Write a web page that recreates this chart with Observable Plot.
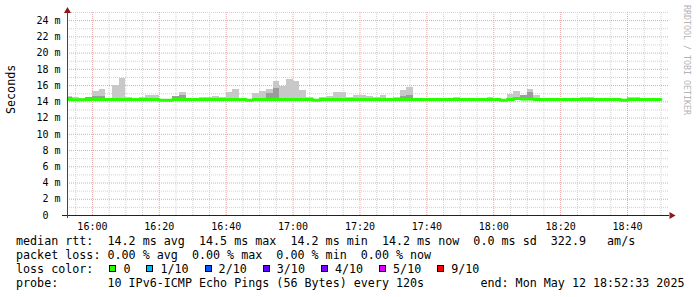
<!DOCTYPE html>
<html><head><meta charset="utf-8">
<script src="https://cdn.jsdelivr.net/npm/d3@7"></script>
<script src="https://cdn.jsdelivr.net/npm/@observablehq/plot@0.6"></script>
<style>
body{margin:0;background:#fff;width:697px;height:297px;overflow:hidden;position:relative}
#chart svg{display:block}
#legend{font-family:"DejaVu Sans Mono",monospace;font-size:11.7px;line-height:14px;white-space:pre;padding-left:16px;color:#000}
.box{display:inline-block;width:5px;height:5px;border:1px solid #000;vertical-align:1px;margin-right:7px}
#credit{position:absolute;left:682px;top:5px;writing-mode:vertical-rl;font-family:"DejaVu Sans Mono",monospace;font-size:8.3px;color:#b4b4b4;line-height:10px}
</style></head>
<body>
<div id="chart"></div>
<div id="legend"></div>
<div id="credit">RRDTOOL / TOBI OETIKER</div>
<script>
// ---- data (2-minute steps starting 15:52 UTC, 12 May 2025) ----
const firstBinStart = "2025-05-12T15:52:00Z";
const stepMinutes = 2;
const viewStart = "2025-05-12T15:52:33Z";
const viewEnd = "2025-05-12T18:52:33Z";

// median RTT (ms) per step
const median = [
  14.3,14.25,14.25,14.3,14.3,14.3,14.3,14.3,14.3,14.3,
  14.3,14.3,14.3,14.3,14.2,14.2,14.3,14.3,14.3,14.3,
  14.3,14.3,14.3,14.3,14.3,14.3,14.3,14.2,14.3,14.3,
  14.3,14.3,14.3,14.3,14.3,14.3,14.3,14.2,14.3,14.3,
  14.3,14.3,14.3,14.3,14.3,14.3,14.3,14.3,14.3,14.3,
  14.3,14.3,14.3,14.3,14.3,14.3,14.3,14.3,14.3,14.3,
  14.3,14.3,14.3,14.3,14.3,14.2,14.3,14.4,14.35,14.35,
  14.3,14.3,14.3,14.3,14.3,14.3,14.3,14.3,14.3,14.3,
  14.3,14.3,14.3,14.2,14.3,14.3,14.3,14.3,14.3
];
// top of the smoke (ms) per step
const smokeHi = [
  14.6,14.5,14.35,14.5,15.3,15.5,14.4,16.0,16.9,14.55,
  14.4,14.5,14.75,14.8,14.3,14.2,14.7,15.2,14.3,14.2,
  14.5,14.5,14.65,14.55,15.1,15.5,14.4,14.3,15.0,15.3,
  15.5,16.5,15.9,16.7,16.45,15.4,14.5,14.3,14.5,14.65,
  15.1,15.1,14.5,14.75,14.8,14.65,14.55,14.8,14.4,14.5,
  15.4,15.8,14.4,14.3,14.4,14.4,14.3,14.3,14.5,14.4,
  14.3,14.35,14.3,14.5,14.3,14.2,14.85,15.3,14.8,15.5,
  14.75,14.4,14.4,14.4,14.4,14.3,14.4,14.5,14.5,14.4,
  14.4,14.4,14.4,14.3,14.5,14.5,14.4,14.3,14.4
];
// top of the denser (darker) smoke (ms) per step, null = none
const darkHi = [
  14.5,null,null,14.5,14.6,14.6,null,null,null,null,
  null,null,null,null,null,null,14.6,14.8,null,null,
  null,null,null,null,14.45,null,null,null,null,null,
  15.0,15.7,null,null,null,null,null,null,null,null,
  null,null,null,null,null,null,null,null,null,null,
  14.7,14.8,null,null,null,null,null,null,null,null,
  null,null,null,null,null,null,null,null,14.8,15.2,
  null,null,null,null,null,null,null,null,null,null,
  null,null,null,null,null,null,null,null,null
];

const yMajorTicks = [0,2,4,6,8,10,12,14,16,18,20,22,24];
const yMinorGrid = [1,3,5,7,9,11,13,15,17,19,21,23,25];

const statLines = [
  "median rtt:  14.2 ms avg  14.5 ms max  14.2 ms min  14.2 ms now  0.0 ms sd  322.9   am/s",
  "packet loss: 0.00 % avg  0.00 % max  0.00 % min  0.00 % now"
];
const lossLabels = ["0","1/10","2/10","3/10","4/10","5/10","9/10"];
const lossColors = ["#26ff00","#00b8ff","#0059ff","#5e00ff","#7e00ff","#dd00ff","#ff0000"];
const probeLine = "probe:       10 IPv6-ICMP Echo Pings (56 Bytes) every 120s        end: Mon May 12 18:52:33 2025";

// ---- build ----
const start0 = new Date(firstBinStart);
const xs = new Date(viewStart), xe = new Date(viewEnd);
const bins = median.map((m, i) => ({
  t0: d3.utcMinute.offset(start0, i * stepMinutes),
  t1: d3.utcMinute.offset(start0, (i + 1) * stepMinutes),
  median: m, hi: smokeHi[i], dark: darkHi[i]
}));
const lineData = bins.map(b => ({t: b.t0, v: b.median}))
  .concat([{t: bins[bins.length - 1].t1, v: bins[bins.length - 1].median}]);

const majorX = d3.utcMinute.every(20).range(xs, xe);
const minorX = d3.utcMinute.every(5).range(xs, xe).filter(d => d.getUTCMinutes() % 20 !== 0);

const gridMinor = "#d2d2d2", gridMajor = "#e6a6a6";

const chart = Plot.plot({
  width: 697, height: 234,
  marginLeft: 67, marginRight: 28, marginTop: 12, marginBottom: 19,
  style: {fontFamily: "DejaVu Sans Mono, monospace", fontSize: "10px", color: "#000", background: "#fff"},
  x: {type: "utc", domain: [xs, xe]},
  y: {domain: [0, 25]},
  marks: [
    Plot.ruleY(yMinorGrid, {stroke: gridMinor, strokeDasharray: "1,1"}),
    Plot.ruleX(minorX, {stroke: gridMinor, strokeDasharray: "1,1"}),
    Plot.ruleY(yMajorTicks.filter(d => d > 0), {stroke: gridMajor, strokeDasharray: "1,1"}),
    Plot.ruleX(majorX, {stroke: gridMajor, strokeDasharray: "1,1"}),
    Plot.rect(bins.filter(b => b.hi > b.median), {x1: "t0", x2: "t1", y1: "median", y2: "hi", fill: "#c8c8c8", shapeRendering: "crispEdges", clip: true}),
    Plot.rect(bins.filter(b => b.dark != null), {x1: "t0", x2: "t1", y1: "median", y2: "dark", fill: "#9c9c9c", shapeRendering: "crispEdges", clip: true}),
    Plot.line(lineData, {x: "t", y: "v", curve: "step-after", stroke: "#26ff00", strokeWidth: 3, clip: true}),
    Plot.axisY({ticks: yMajorTicks, tickSize: 0, tickPadding: 7, label: null,
      tickFormat: d => d === 0 ? "0\u00a0\u00a0" : d + " m"}),
    Plot.axisX({ticks: majorX, tickSize: 0, tickPadding: 7, label: null, tickFormat: d3.utcFormat("%H:%M")}),
    Plot.ruleY([0], {stroke: "#222", insetLeft: -5}),
    Plot.ruleX([xs], {stroke: "#444", insetTop: -3, insetBottom: -3}),
    Plot.dot([xe], {x: d => d, y: () => 0, symbol: "triangle", r: 2.6, fill: "#8b1a1a", stroke: "none", rotate: 90, dx: 2}),
    Plot.dot([xs], {x: d => d, y: () => 25, symbol: "triangle", r: 2.6, fill: "#8b1a1a", stroke: "none", dy: -1.5}),
    Plot.text(["Seconds"], {frameAnchor: "left", dx: -56, rotate: -90, fontSize: 11.7, fill: "#000"})
  ]
});
document.getElementById("chart").appendChild(chart);

// legend text
const legend = document.getElementById("legend");
statLines.forEach(s => { const d = document.createElement("div"); d.textContent = s; legend.appendChild(d); });
const lc = document.createElement("div");
lc.appendChild(document.createTextNode("loss color:"));
lossLabels.forEach((lab, i) => {
  const b = document.createElement("span");
  b.className = "box";
  b.style.background = lossColors[i];
  b.style.marginLeft = "16px";
  lc.appendChild(b);
  lc.appendChild(document.createTextNode(lab));
});
legend.appendChild(lc);
const pl = document.createElement("div"); pl.textContent = probeLine; legend.appendChild(pl);
</script>
</body></html>
